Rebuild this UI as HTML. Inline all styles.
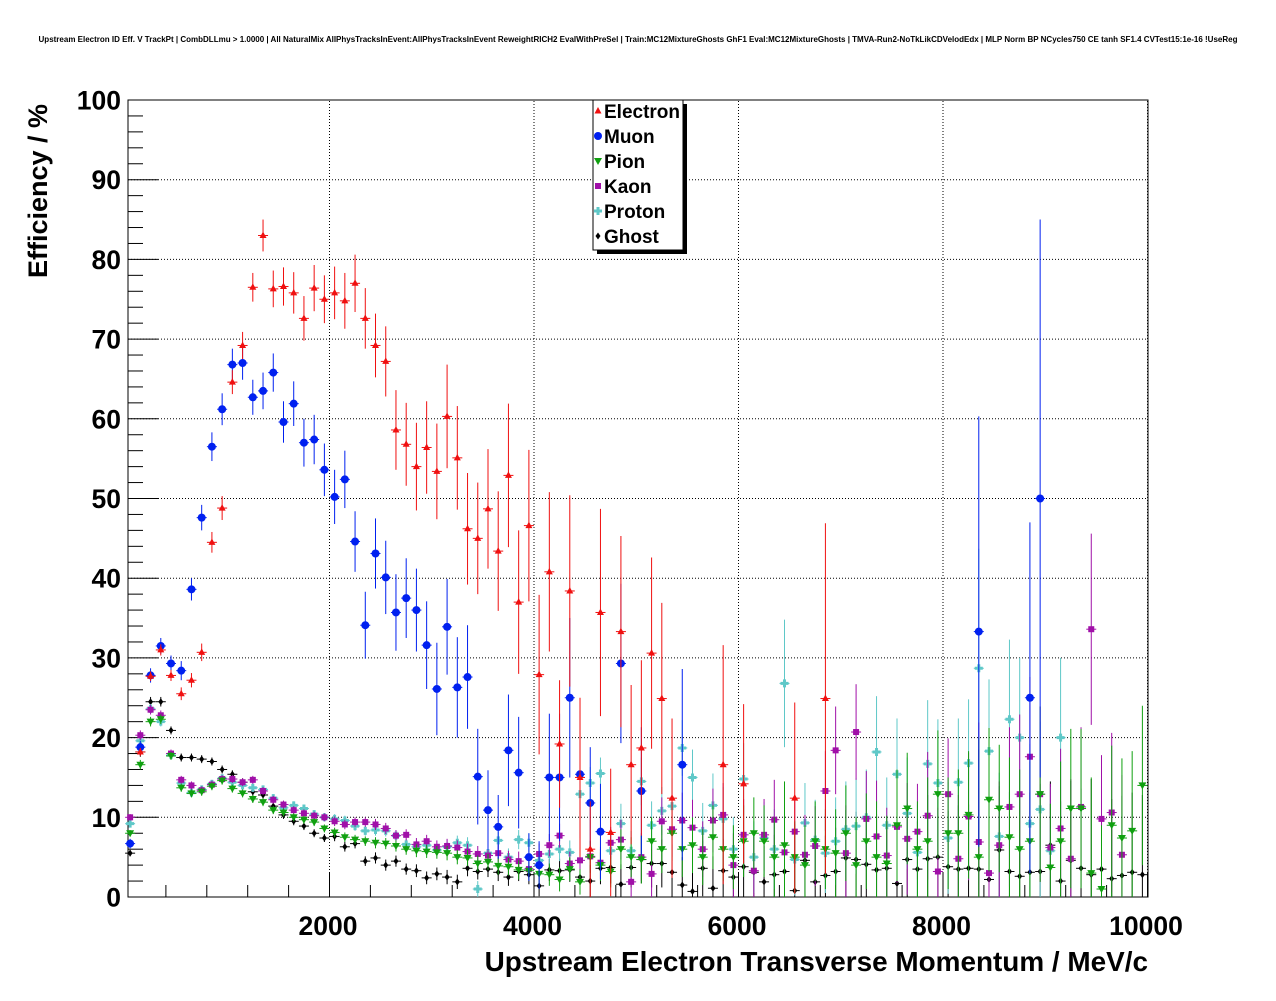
<!DOCTYPE html>
<html><head><meta charset="utf-8"><style>
body{margin:0;background:#fff;}
svg text{font-family:"Liberation Sans",Arial,sans-serif;font-weight:bold;}
</style></head><body>
<svg id="c" width="1276" height="996" xmlns="http://www.w3.org/2000/svg">
<text x="638" y="42" font-size="8" text-anchor="middle">Upstream Electron ID Eff. V TrackPt | CombDLLmu &gt; 1.0000 | All NaturalMix AllPhysTracksInEvent:AllPhysTracksInEvent ReweightRICH2 EvalWithPreSel | Train:MC12MixtureGhosts GhF1 Eval:MC12MixtureGhosts | TMVA-Run2-NoTkLikCDVelodEdx | MLP Norm BP NCycles750 CE tanh SF1.4 CVTest15:1e-16 !UseReg</text>
<g id="grid"></g>
<g id="axes"></g>
<g id="marks"></g>
<text x="1148" y="971" font-size="27.9" text-anchor="end">Upstream Electron Transverse Momentum / MeV/c</text>
<text transform="translate(47,278) rotate(-90)" font-size="27">Efficiency / %</text>
<g id="legend"></g>
</svg>
<script>
const binCenters=[];for(let i=0;i<100;i++)binCenters.push(50+100*i);
const xTicks=[2000,4000,6000,8000,10000];
const yTicks=[0,10,20,30,40,50,60,70,80,90,100];
const N=null;
const electron=[N,18.2,27.7,31,27.8,25.5,27.2,30.7,44.5,48.8,64.6,69.2,76.5,83,76.3,76.6,75.8,72.6,76.4,75,75.8,74.8,77,72.6,69.2,67.2,58.6,56.8,54,56.4,53.4,60.3,55.1,46.2,45,48.7,43.4,52.9,37,46.6,27.9,40.8,19.2,38.4,15,6,35.7,8.1,33.3,16.6,18.7,30.6,24.9,12.4,N,N,N,N,16.6,N,14.2,N,N,N,N,12.4,N,N,24.9];
const electronErr=[0,0.5,0.6,0.7,0.7,0.8,0.9,1.1,1.3,1.5,1.5,1.7,1.8,2,2.3,2.4,2.6,2.8,2.9,3,3.3,3.5,3.6,3.8,4,4.4,5,5.2,5.5,5.8,6,6.5,6.5,7,7,7.5,7.5,9,9,9.5,10,10,8,12,10,6,13,8,12,10,11,12,12,10,0,0,0,0,15,0,10,0,0,0,0,12,0,0,22];
const muon=[6.7,18.8,27.8,31.5,29.3,28.4,38.6,47.6,56.5,61.2,66.8,67,62.7,63.5,65.8,59.6,61.9,57,57.4,53.6,50.2,52.4,44.6,34.1,43.1,40.1,35.7,37.5,36,31.6,26.1,33.9,26.3,27.6,15.1,10.9,8.8,18.4,15.6,5,4,15,15,25,15.4,11.8,8.2,N,29.3,N,13.3,N,N,N,16.6,N,N,N,N,N,N,N,N,N,N,N,N,N,N,N,N,N,N,N,N,N,N,N,N,N,N,N,N,33.3,N,N,N,N,25,50];
const muonErr=[0.6,0.8,0.9,1,1,1.2,1.4,1.6,1.8,2,2,2.1,2.2,2.3,2.4,2.6,2.8,3,3.1,3.3,3.4,3.6,3.8,4.2,4.4,4.6,4.8,5,5.2,5.5,5.8,6,6.3,6.5,6,5,4,7,7,3,3,8,8,10,8,7,6,0,10,0,8,0,0,0,12,0,0,0,0,0,0,0,0,0,0,0,0,0,0,0,0,0,0,0,0,0,0,0,0,0,0,0,0,27,0,0,0,0,22,35];
const pion=[8,16.6,22,22.3,17.7,13.7,13,13.2,13.9,14.6,13.6,13,12.3,11.9,10.9,10.6,10,9.7,9.4,8.6,8.1,7.5,7.2,7,6.8,6.7,6.4,6,5.8,5.7,5.6,5.5,5,4.9,4.2,4.4,3.9,3.8,3.4,3.3,2.9,2.8,2.2,3.5,1.9,5,4,3.2,6,5,4.7,7,6,8,6,6.5,5,7.5,6,5,7,8,7,5,6.5,5,4,7,6,5.5,8,4,7,5,4.2,9,11.1,6,7,12.9,8,8,10.3,5,12.2,11.1,7.5,6,7,12.9,3.7,7,11.1,11.1,3,1,9,7.4,8.3,14];
const kaon=[10,20.3,23.5,22.8,18,14.7,14,13.4,14.1,14.8,14.8,14.4,14.7,13.3,12.2,11.6,10.9,10.5,10.2,10,9.5,9.1,9.4,9.4,9.1,8.6,7.7,7.8,6.6,7,6.3,6.4,6.2,5.7,5.4,5.2,5.5,4.7,4.5,3.5,5.4,6.5,7.7,4.2,4.6,5.1,4.3,6.8,7.2,1.9,5,2.9,9.5,8.5,9.6,8.7,6,9.6,10.3,4,7.8,3.3,7.8,9.7,5.6,8.2,5.3,6.4,13.3,18.4,5.5,20.7,9.8,7.6,5.2,8.8,7.3,8.2,10.2,3.2,12.9,4.8,10.1,6.9,3,6.5,11.3,12.9,17.6,12.9,6.2,8.6,4.8,11.3,33.6,9.8,10.6,5.3];
const proton=[9.2,19.6,23.6,22,17.8,14.3,13.1,13.5,14.2,14.9,14.4,14,13.7,13.5,12.4,11.2,11.5,11.1,10.4,10,9.8,9.6,8.9,8.3,8.4,8.3,7.7,6.6,6.3,6.5,5.9,6.3,6.8,6.5,1,5.5,7.1,5,7.2,6.8,4.6,5.4,6,5.6,12.9,14.3,15.5,5.8,9.2,5.8,14.5,9,10.8,11.4,18.7,15,8.3,11.5,9.8,6,14.8,5,7.4,6,26.8,4.7,9.3,7.2,5.5,7,8.5,8.9,10,18.2,9,15.4,10.5,5.6,16.7,14.3,7.4,14.4,16.8,28.7,18.3,7.6,22.3,20,9.2,11,5.8,20];
const ghost=[5.5,18.2,24.5,24.5,20.9,17.5,17.5,17.3,17,16,15.4,14.4,13.2,12.8,11.4,10.3,9.5,8.9,8,7.4,7.6,6.3,6.7,4.5,4.9,4,4.5,3.5,3.3,2.4,2.9,2.5,1.9,3.6,3.2,3.5,3.1,2.5,3.2,2.8,1.4,3.4,3.3,3.4,2.5,2,3.6,3.7,1.6,3.7,4.7,4.2,4.2,3.1,1.5,0.7,3.6,1.1,3.3,2.5,3.8,3.1,1.9,2.8,3.2,0.8,4.6,1.9,2.7,3.2,4.9,4.7,4.1,3.4,3.6,1.7,4.7,3.5,4.8,5,3.8,3.5,3.6,3.5,2.2,5.9,3.2,2.6,3.1,3.2,6.5,2,4.6,3.6,2.8,3.5,2.3,2.7,3.1,2.8];
const lowErr=[0.4,0.6,0.6,0.6,0.5,0.5,0.5,0.5,0.5,0.5,0.5,0.5,0.5,0.5,0.5,0.5,0.5,0.5,0.5,0.5,0.6,0.6,0.6,0.6,0.7,0.7,0.7,0.7,0.8,0.8,0.8,0.9,0.9,1,1,1,1.1,1.1,1.2,1.2,1.3,1.4,1.5,1.5,1.6,2,2,2,2.5,2.5,3,3,3,3.5,3.5,3.5,3.5,4,4,4,4.5,4.5,4.5,5,8,4.5,5,5,5,5.5,6,6,6,7,6,7,7,6,8,8,7,8,8,15,9,8,10,10,10,11,8,10,10,10,12,8,10,10,10,10];
const X0=128,X1=1148,Y0=897,Y1=100;
const xs=v=>125+v*0.10225;
const ys=v=>Y0-(v/100)*(Y0-Y1);
const NS="http://www.w3.org/2000/svg";
function mk(tag,attrs,parent){const e=document.createElementNS(NS,tag);for(const k in attrs)e.setAttribute(k,attrs[k]);parent.appendChild(e);return e;}
const grid=document.getElementById('grid'),axes=document.getElementById('axes'),marks=document.getElementById('marks');
xTicks.forEach(t=>{const l=mk('line',{x1:xs(t),x2:xs(t),y1:Y0,y2:Y1,stroke:'#000','stroke-width':1,'stroke-dasharray':'1,2'},grid);
 const tx=mk('text',{x:xs(t)-1.5,y:935,'font-size':26.5,'text-anchor':'middle'},axes);tx.textContent=t;});
yTicks.forEach(t=>{const l=mk('line',{x1:X0,x2:X1,y1:ys(t),y2:ys(t),stroke:'#000','stroke-width':1,'stroke-dasharray':'1,2'},grid);
 const tx=mk('text',{x:121,y:ys(t)+9.5,'font-size':26.5,'text-anchor':'end'},axes);tx.textContent=t;});
const fr=mk('rect',{x:X0,y:Y1,width:X1-X0,height:Y0-Y1,fill:'none',stroke:'#000','stroke-width':1},axes);
for(let v=400;v<=10000;v+=400){const big=v%2000===0;const l=mk('line',{x1:xs(v),x2:xs(v),y1:Y0,y2:Y0-(big?24:12),stroke:'#000'},axes);}
for(let v=0;v<=100;v+=2){const big=v%10===0;const l=mk('line',{x1:X0,x2:X0+(big?30:15),y1:ys(v),y2:ys(v),stroke:'#000'},axes);}
function marker(g,type,x,y,col){
 if(type==='tri')mk('polygon',{points:`${x},${y-4} ${x-3.5},${y+2.5} ${x+3.5},${y+2.5}`,fill:col},g);
 else if(type==='circ')mk('circle',{cx:x,cy:y,r:4,fill:col},g);
 else if(type==='tdn')mk('polygon',{points:`${x},${y+4} ${x-4},${y-3} ${x+4},${y-3}`,fill:col},g);
 else if(type==='sq')mk('rect',{x:x-3,y:y-3,width:6,height:6,fill:col},g);
 else if(type==='cross')mk('polygon',{points:`${x-1.5},${y-4} ${x+1.5},${y-4} ${x+1.5},${y-1.5} ${x+4},${y-1.5} ${x+4},${y+1.5} ${x+1.5},${y+1.5} ${x+1.5},${y+4} ${x-1.5},${y+4} ${x-1.5},${y+1.5} ${x-4},${y+1.5} ${x-4},${y-1.5} ${x-1.5},${y-1.5}`,fill:col},g);
 else mk('polygon',{points:`${x},${y-3.5} ${x+2.5},${y} ${x},${y+3.5} ${x-2.5},${y}`,fill:col},g);
}
const series=[
 {name:'Ghost',vals:ghost,err:lowErr,col:'#000',type:'dia'},
 {name:'Proton',vals:proton,err:lowErr,col:'#5fc8c8',type:'cross'},
 {name:'Kaon',vals:kaon,err:lowErr,col:'#a010a8',type:'sq'},
 {name:'Pion',vals:pion,err:lowErr,col:'#10a010',type:'tdn'},
 {name:'Muon',vals:muon,err:muonErr,col:'#0020f0',type:'circ'},
 {name:'Electron',vals:electron,err:electronErr,col:'#f01010',type:'tri'}];
series.forEach(s=>{
 const g=mk('g',{},marks);
 s.vals.forEach((v,i)=>{if(v===null||v===undefined)return;
  const x=xs(binCenters[i]),y=ys(v),e=(s.err[i]||0.4);
  mk('line',{x1:x,x2:x,y1:ys(Math.min(100,v+e)),y2:ys(Math.max(0,v-e)),stroke:s.col,'stroke-width':1},g);
  mk('line',{x1:x-5,x2:x+5,y1:y,y2:y,stroke:s.col,'stroke-width':1},g);
  marker(g,s.type,x,y,s.col);});
});
const lg=document.getElementById('legend');
mk('rect',{x:597,y:104,width:90,height:150,fill:'#000'},lg);
mk('rect',{x:593,y:100,width:90,height:150,fill:'#fff',stroke:'#000'},lg);
['Electron','Muon','Pion','Kaon','Proton','Ghost'].forEach((n,k)=>{const s=series.find(q=>q.name===n);const y=111+25*k;
 const g=mk('g',{},lg);
 marker(g,s.type,598,y,s.col);
 const t=mk('text',{x:604,y:y+7,'font-size':19},g);t.textContent=n;});
</script>
</body></html>
